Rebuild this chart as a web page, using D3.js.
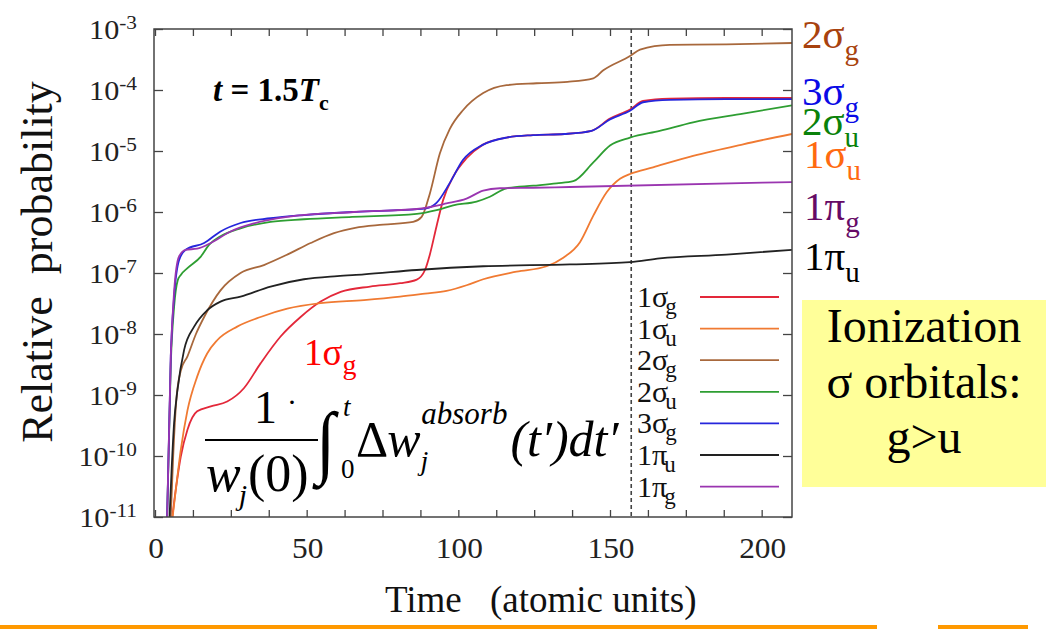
<!DOCTYPE html>
<html><head><meta charset="utf-8">
<script src="https://cdn.jsdelivr.net/npm/d3@7"></script>
<style>
html,body{margin:0;padding:0;background:#fff;}
svg{display:block;font-family:"Liberation Serif","Times New Roman",Tinos,serif;}
text{white-space:pre;}
</style></head><body>
<svg id="chart" width="1046" height="629"></svg>
<script>
// Relative probability of absorption-induced ionization per orbital, [time (a.u.), value]
const s1sg = [[5.7,1e-11],[7,3.2e-11],[8.5,9.8e-11],[10.7,2.7e-10],[13.9,5.4e-10],[18.4,6.5e-10],[23.8,7.8e-10],[29.3,1.29e-9],[34.8,3.3e-9],[41.4,9.1e-9],[48,1.9e-8],[54.6,3.4e-8],[61.2,4.9e-8],[70.9,6.0e-8],[80.8,6.8e-8],[86.3,7.8e-8],[89,1.12e-7],[90.6,2.0e-7],[92.8,5.8e-7],[95,1.58e-6],[98.3,3.8e-6],[102.7,7.6e-6],[108,1.26e-5],[115.9,1.66e-5],[124.6,1.82e-5],[135,1.9e-5],[143.9,2.14e-5],[150,3.4e-5],[156.6,4.8e-5],[160.9,6.6e-5],[169.7,7.2e-5],[188.4,7.4e-5],[210,7.4e-5]];
const s1su = [[5.8,1e-11],[7,3.2e-11],[8.5,1.26e-10],[10.7,5.6e-10],[13.9,2.0e-9],[17.2,4.8e-9],[20.5,7.9e-9],[27.1,1.32e-8],[34.8,1.9e-8],[43.6,2.6e-8],[54.6,3.2e-8],[68.9,3.6e-8],[80.8,4.1e-8],[89,4.6e-8],[96.1,5.1e-8],[102.7,6.3e-8],[108.2,7.9e-8],[119.2,1.05e-7],[129.1,1.29e-7],[134.6,1.78e-7],[140.1,3.2e-7],[144.5,8.7e-7],[148.9,2.1e-6],[153.3,3.5e-6],[156.6,4.2e-6],[164.2,5.4e-6],[177.4,8.3e-6],[193.9,1.29e-5],[210,1.9e-5]];
const s2sg = [[5.2,1e-11],[6,1e-10],[7,7.9e-10],[8.5,2.5e-9],[10.7,4.3e-9],[13.5,1e-8],[16.2,1.9e-8],[21.6,5.2e-8],[28.2,1e-7],[35.9,1.35e-7],[43.6,2.0e-7],[51.3,3.1e-7],[59,4.5e-7],[66,5.5e-7],[75.2,6.2e-7],[85.1,6.9e-7],[87.9,8.3e-7],[90.6,2.0e-6],[93.9,9.1e-6],[97.2,2.3e-5],[101.6,4.7e-5],[108.2,8.9e-5],[115.9,1.2e-4],[125.8,1.29e-4],[136,1.36e-4],[144.5,1.55e-4],[147.8,2.1e-4],[156.6,3.6e-4],[159.9,4.6e-4],[169.7,5.5e-4],[188.4,5.6e-4],[210,5.9e-4]];
const s2su = [[4.0,1e-11],[5.2,3.2e-9],[6.3,2.8e-8],[7.5,7.6e-8],[8.5,9.3e-8],[10.7,1.2e-7],[15.1,1.86e-7],[17.8,2.9e-7],[21.6,4.0e-7],[28.2,5.4e-7],[38.1,6.9e-7],[49.1,7.6e-7],[65,8.3e-7],[86.3,9.3e-7],[92.8,1.07e-6],[98.3,1.29e-6],[106,1.48e-6],[110.4,1.78e-6],[115.9,2.45e-6],[124.7,2.7e-6],[132.4,2.95e-6],[137.9,3.2e-6],[144.5,6.5e-6],[150,1.23e-5],[156.6,1.66e-5],[166.4,2.14e-5],[177.4,2.95e-5],[193.9,4.1e-5],[210,5.6e-5]];
const s3sg = [[4.0,1e-11],[5.2,4.3e-9],[6.3,4.1e-8],[7.9,1.6e-7],[10.1,2.4e-7],[16.2,3.1e-7],[21.6,4.8e-7],[28.2,6.6e-7],[38.1,7.9e-7],[49.1,8.9e-7],[65,1.0e-6],[80,1.07e-6],[89.5,1.15e-6],[92.8,1.41e-6],[97.2,3.0e-6],[101.5,7.1e-6],[108,1.26e-5],[115.9,1.66e-5],[124.6,1.82e-5],[135,1.9e-5],[143.9,2.14e-5],[150,3.3e-5],[156.6,4.57e-5],[160.9,6.3e-5],[169.7,6.9e-5],[188.4,7.1e-5],[210,7.1e-5]];
const s1pu = [[4.8,1e-11],[5.5,6.3e-11],[6.3,3.5e-10],[7.4,1.2e-9],[9.6,5.5e-9],[12.9,1.32e-8],[17.2,2.45e-8],[21.6,3.4e-8],[28.2,4.1e-8],[38.1,6.0e-8],[49.1,7.9e-8],[60.1,8.9e-8],[68.9,9.5e-8],[86.3,1.12e-7],[108.2,1.29e-7],[136.8,1.38e-7],[156.6,1.51e-7],[166.4,1.74e-7],[188.4,2.0e-7],[210,2.4e-7]];
const s1pg = [[4.0,1e-11],[5.2,4.3e-9],[6.3,5e-8],[7.9,1.86e-7],[10.1,2.4e-7],[13.9,2.5e-7],[18.4,3.1e-7],[24.9,4.8e-7],[32.6,6.5e-7],[43.6,8.3e-7],[65.6,1.0e-6],[86.3,1.12e-6],[96.1,1.38e-6],[102.7,1.66e-6],[108.2,2.24e-6],[113.7,2.45e-6],[124.7,2.5e-6],[136.8,2.57e-6],[210,3.1e-6]];

const orbitalBase = ["1σ","1σ","2σ","2σ","3σ","1π","1π"];
const orbitalSub  = ["g","u","g","u","g","u","g"];
const seriesData  = [s1sg, s1su, s2sg, s2su, s3sg, s1pu, s1pg];
const lineColors  = ["#e3283a","#f07a32","#a8683c","#2e9e32","#2626dc","#222222","#9a35b0"];

// Side annotations (orbital name and colour)
const sideBase   = ["2σ","3σ","2σ","1σ","1π","1π"];
const sideSub    = ["g","g","u","u","g","u"];
const sideColors = ["#a8420e","#0a0ae6","#0a820a","#ff6a10","#660a66","#000000"];

const xTickValues = d3.range(0, 210.01, 12.5);
const xTickLabels = [0, 50, 100, 150, 200];
const yTickExps   = [-3,-4,-5,-6,-7,-8,-9,-10,-11];
const cutTime = 157;

const svg = d3.select("#chart");
const L = 155, R = 792, T = 29, B = 517;
const x = d3.scaleLinear().domain([0, 210]).range([L, R]);
const y = d3.scaleLog().domain([1e-11, 1e-3]).range([B, T]);
const axisCol = "#444";

svg.append("defs").append("clipPath").attr("id","plotclip")
  .append("rect").attr("x",L-1).attr("y",T).attr("width",R-L+1).attr("height",B-T);

// axes (ticks point inward)
const yTickVals = yTickExps.map(e => Math.pow(10, e));
svg.append("g").attr("transform",`translate(${L-1},0)`)
  .call(d3.axisLeft(y).tickValues(yTickVals).tickSize(-9).tickFormat(""));
svg.append("g").attr("transform",`translate(${R},0)`)
  .call(d3.axisRight(y).tickValues(yTickVals).tickSize(-9).tickFormat(""));
svg.append("g").attr("transform",`translate(0,${B})`)
  .call(d3.axisBottom(x).tickValues(xTickValues).tickSize(-7).tickFormat(""));
svg.append("g").attr("transform",`translate(0,${T})`)
  .call(d3.axisTop(x).tickValues(xTickValues).tickSize(-7).tickFormat(""));
svg.selectAll(".domain").remove();
svg.selectAll(".tick line").attr("stroke", axisCol).attr("stroke-width", 1.3);

// cut line
svg.append("line").attr("x1",x(cutTime)).attr("x2",x(cutTime)).attr("y1",T).attr("y2",B)
  .attr("stroke","#444").attr("stroke-width",1.6).attr("stroke-dasharray","4,3");

// curves
const line = d3.line().x(d => x(d[0])).y(d => y(d[1])).curve(d3.curveMonotoneX);
const curves = svg.append("g").attr("clip-path","url(#plotclip)");
seriesData.forEach((s, i) => {
  curves.append("path").attr("d", line(s)).attr("fill","none")
    .attr("stroke", lineColors[i]).attr("stroke-width", 1.8);
});

// frame
svg.append("rect").attr("x",L-1).attr("y",T).attr("width",R-L+1).attr("height",B-T)
  .attr("fill","none").attr("stroke",axisCol).attr("stroke-width",1.5);

// y tick labels 10^n
yTickExps.forEach(e => {
  const t = svg.append("text")
    .attr("transform", `translate(137,${y(Math.pow(10,e)) + 10}) scale(1.12,1)`)
    .attr("text-anchor","end").attr("fill","#222").attr("font-size",27);
  t.append("tspan").text("10");
  t.append("tspan").attr("font-size",19).attr("dy",-10).text(String(e));
});

// x tick labels
xTickLabels.forEach(v => {
  svg.append("text").attr("transform", `translate(${x(v) + 1},558) scale(1.08,1)`)
    .attr("text-anchor","middle").attr("fill","#222").attr("font-size",29).text(v);
});

// axis titles
svg.append("text").attr("transform","translate(52,262) rotate(-90)")
  .attr("text-anchor","middle").attr("font-size",44).attr("fill","#111")
  .text("Relative  probability");
const xt = svg.append("text").attr("y",612).attr("font-size",37).attr("fill","#111");
xt.append("tspan").attr("x",385).text("Time");
xt.append("tspan").attr("x",490).text("(atomic units)");

// pulse time annotation
const tt = svg.append("text").attr("x",213).attr("y",101).attr("font-size",33)
  .attr("font-weight","bold").attr("fill","#000");
tt.append("tspan").attr("font-style","italic").text("t");
tt.append("tspan").text(" = 1.5");
tt.append("tspan").attr("font-style","italic").text("T");
tt.append("tspan").attr("font-size",22).attr("dy",9).text("c");

// legend
const legY0 = 297, legStep = 31.6;
orbitalBase.forEach((b, i) => {
  const ly = legY0 + i * legStep;
  const t = svg.append("text").attr("x",637).attr("y", ly + 10).attr("font-size",30).attr("fill","#111");
  t.append("tspan").text(b);
  t.append("tspan").attr("font-size",23).attr("dy",7).attr("dx",-3).text(orbitalSub[i]);
  svg.append("line").attr("x1",700).attr("x2",779).attr("y1",ly).attr("y2",ly)
    .attr("stroke", lineColors[i]).attr("stroke-width",1.8);
});

// side labels
const sideY = [48,105,135,168,220,270];
sideBase.forEach((b, i) => {
  const t = svg.append("text").attr("x", i < 3 ? 802 : 804).attr("y", sideY[i])
    .attr("font-size",41).attr("fill", sideColors[i]);
  t.append("tspan").text(b);
  t.append("tspan").attr("font-size",29).attr("dy",12).text(sideSub[i]);
});

// 1σg annotation and formula
const ann = svg.append("text").attr("x",304).attr("y",365).attr("font-size",37).attr("fill","#ff0000");
ann.append("tspan").text("1σ");
ann.append("tspan").attr("font-size",28).attr("dy",9).text("g");

const f = svg.append("g").attr("fill","#000");
const num = f.append("text").attr("x",254).attr("y",423).attr("font-size",46);
num.append("tspan").text("1");
num.append("tspan").attr("font-size",30).attr("dx",10).attr("dy",-11).text("·");
f.append("line").attr("x1",205).attr("x2",318).attr("y1",440).attr("y2",440).attr("stroke","#000").attr("stroke-width",2);
const den = f.append("text").attr("x",206).attr("y",491).attr("font-size",52);
den.append("tspan").attr("font-style","italic").text("w");
den.append("tspan").attr("font-style","italic").attr("font-size",30).attr("dy",14).attr("dx",-2).text("j");
den.append("tspan").attr("dy",-14).attr("dx",1).text("(0)");
f.append("text").attr("transform","translate(316,468) scale(1,1.15)").attr("font-size",70).text("∫");
const lim = f.append("text").attr("x",343).attr("y",416).attr("font-size",27);
lim.append("tspan").attr("font-style","italic").text("t");
lim.append("tspan").attr("x",341).attr("dy",62).text("0");
const body = f.append("text").attr("x",356).attr("y",456).attr("font-size",50);
body.append("tspan").text("Δ");
body.append("tspan").attr("font-style","italic").attr("dx",-1).text("w");
body.append("tspan").attr("font-style","italic").attr("font-size",28).attr("dy",14).text("j");
body.append("tspan").attr("font-style","italic").attr("font-size",31).attr("dx",-7).attr("dy",-46).text("absorb");
body.append("tspan").attr("font-style","italic").attr("dx",3).attr("dy",32).text("(t′)dt′");

// highlighted note
svg.append("rect").attr("x",802).attr("y",300).attr("width",244).attr("height",187).attr("fill","#ffff99");
[["Ionization",342],["σ orbitals:",398],["g>u",453]].forEach(([s, by]) => {
  svg.append("text").attr("x",924).attr("y",by).attr("text-anchor","middle")
    .attr("font-size",48).attr("fill","#000").text(s);
});

// bottom rule
svg.append("rect").attr("x",0).attr("y",625).attr("width",877).attr("height",4).attr("fill","#ff9900");
svg.append("rect").attr("x",938).attr("y",625).attr("width",90).attr("height",4).attr("fill","#ff9900");
</script>
</body></html>
